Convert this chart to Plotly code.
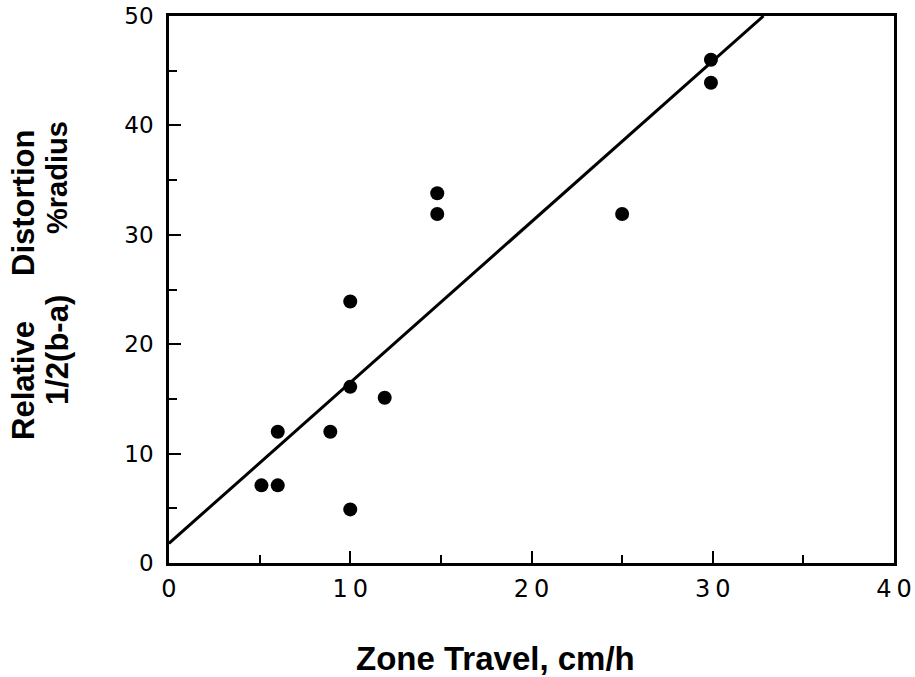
import plotly.graph_objects as go

# Data
zone_travel = [5.1, 6.0, 6.0, 8.9, 10.0, 10.0, 10.0, 11.9, 14.8, 14.8, 25.0, 29.9, 29.9]
distortion = [7.1, 7.1, 12.0, 12.0, 16.1, 23.9, 4.9, 15.1, 33.8, 31.9, 31.9, 46.0, 43.9]

fit_x = [0.0, 32.8]
fit_y = [1.8, 50.0]

x_ticks = [0, 10, 20, 30, 40]
x_ticktext = ["0", "1\u20090", "2\u20090", "3\u20090", "4\u20090"]
y_ticks = [0, 10, 20, 30, 40, 50]
y_ticktext = ["0", "10", "20", "30", "40", "50"]

FONT = "Liberation Sans, Arial, Helvetica, sans-serif"
TICKFONT = "DejaVu Sans, sans-serif"

fig = go.Figure()
fig.add_trace(go.Scatter(x=fit_x, y=fit_y, mode="lines",
                         line=dict(color="black", width=3), showlegend=False,
                         hoverinfo="skip"))
fig.add_trace(go.Scatter(x=zone_travel, y=distortion, mode="markers",
                         marker=dict(color="black", size=14, line=dict(width=0)),
                         showlegend=False))

W, H = 915, 677
PL, PR, PT, PB = 169, 894, 16, 563  # plot frame in page pixels
L, R, T, B = PL, W - PR, PT, H - PB
pw, ph = W - L - R, H - T - B

def px_x(px):
    return (px - L) / pw

def px_y(py):
    return (H - B - py) / ph

axis_common = dict(
    ticks="inside", ticklen=12, tickwidth=2, tickcolor="black",
    minor=dict(ticks="inside", ticklen=8, tickwidth=2, tickcolor="black", dtick=5, showgrid=False),
    showline=True, linecolor="black", linewidth=2.5, mirror=True,
    showgrid=False, zeroline=False, ticklabeloverflow="allow", automargin=False,
)

fig.update_layout(
    template="none",
    width=W, height=H,
    margin=dict(l=L, r=R, t=T, b=B, pad=0, autoexpand=False),
    paper_bgcolor="white", plot_bgcolor="white",
    font=dict(family=FONT, color="black"),
    xaxis=dict(range=[0, 40], tickmode="array", tickvals=x_ticks, ticktext=x_ticktext,
               tickfont=dict(size=24, family=TICKFONT), ticklabelstandoff=2, **axis_common),
    yaxis=dict(range=[0, 50], tickmode="array", tickvals=y_ticks, ticktext=y_ticktext,
               tickfont=dict(size=23, family=TICKFONT), ticklabelstandoff=8, **axis_common),
)

ann = [
    ("<b>Zone Travel, cm/h</b>", 495, 659, 0, 33),
    ("<b>Relative</b>", 23, 381, -90, 31),
    ("<b>Distortion</b>", 23, 203, -90, 31),
    ("<b>1/2(b-a)</b>", 57, 350, -90, 31),
    ("<b>%radius</b>", 57, 178, -90, 29),
]
for text, ax, ay, ang, fs in ann:
    fig.add_annotation(text=text, xref="paper", yref="paper", x=px_x(ax), y=px_y(ay),
                       xanchor="center", yanchor="middle", showarrow=False,
                       textangle=ang, font=dict(family=FONT, size=fs, color="black"))

fig.write_html("out.html", config={"displayModeBar": False},
               post_script="document.body.style.margin='0';")
